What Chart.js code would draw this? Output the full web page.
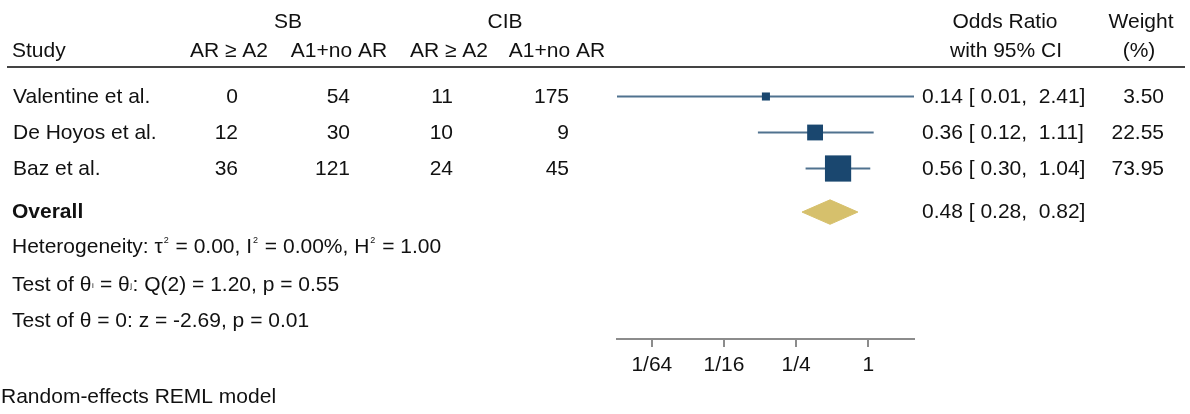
<!DOCTYPE html>
<html>
<head>
<meta charset="utf-8">
<title>Forest plot</title>
<script src="https://cdn.jsdelivr.net/npm/chart.js@4/dist/chart.umd.min.js"></script>
<style>
    html, body { margin: 0; padding: 0; background: #fff; }
    #wrap { width: 1190px; height: 414px; position: relative; }
</style>
</head>
<body>
<div id="wrap"><canvas id="forestChart"></canvas></div>
<script>
// Study table
const studies = ['Valentine et al.', 'De Hoyos et al.', 'Baz et al.'];
const sbEvents = [0, 12, 36];
const sbNonEvents = [54, 30, 121];
const cibEvents = [11, 10, 24];
const cibNonEvents = [175, 9, 45];

// Effect sizes (odds ratio, 95% CI) and weights
const oddsRatio = [0.14, 0.36, 0.56];
const ciLower = [0.008, 0.12, 0.30];
const ciUpper = [2.41, 1.11, 1.04];
const weights = [3.50, 22.55, 73.95];
const overallEstimate = [0.48, 0.28, 0.82]; // OR, lower, upper

// Axis ticks
const xTickValues = [1 / 64, 1 / 16, 1 / 4, 1];
const xTickLabels = ['1/64', '1/16', '1/4', '1'];

// Bottom statistics text (parts: [text, kind])
const statLines = [
    [['Heterogeneity: τ', 'n'], ['2', 'sup'], [' = 0.00, I', 'n'], ['2', 'sup'], [' = 0.00%, H', 'n'], ['2', 'sup'], [' = 1.00', 'n']],
    [['Test of θ', 'n'], ['i', 'sub'], [' = θ', 'n'], ['j', 'sub'], [': Q(2) = 1.20, p = 0.55', 'n']],
    [['Test of θ = 0: z = -2.69, p = 0.01', 'n']]
];
const footnote = 'Random-effects REML model';

// Layout / styles
const FONT = '"Liberation Sans", Arial, sans-serif';
const FS = 21;
const TEXT_COLOR = '#111';
const NAVY = '#1a476f';
const CI_COLOR = '#50728f';
const SAND = '#d6c06c';
const AXIS_COLOR = '#8c8c8c';
const ROW_PX = 36;          // spacing between study rows
const OVERALL_ROW = 3.21;   // overall row position (after a small gap)
const DIAMOND_HALF = 0.34;  // diamond half height in row units
const PLOT_TOP = 66;
const PLOT_BOTTOM = 339;
const FIRST_ROW_PX = 96.5;

const yMin = -(FIRST_ROW_PX - PLOT_TOP) / ROW_PX;
const yMax = yMin + (PLOT_BOTTOM - PLOT_TOP) / ROW_PX;

function fmt2(v) {
    return v.toFixed(2);
}
function ciText(or, lo, hi) {
    return fmt2(or) + ' [ ' + fmt2(lo) + ',  ' + fmt2(hi) + ']';
}

// square side grows with study weight
function squareRadius(w) {
    const side = 3 + 2.7 * Math.sqrt(w);
    return side / Math.SQRT2;
}

function drawRich(ctx, parts, x, y) {
    let cx = x;
    parts.forEach(([t, kind]) => {
        if (kind === 'sup') {
            ctx.font = '9px ' + FONT;
            ctx.fillText(t, cx + 1, y - 10);
            cx += ctx.measureText(t).width + 2;
        } else if (kind === 'sub') {
            ctx.font = '8px ' + FONT;
            ctx.fillText(t, cx + 0.5, y - 3);
            cx += ctx.measureText(t).width + 1;
        } else {
            ctx.font = FS + 'px ' + FONT;
            ctx.fillText(t, cx, y);
            cx += ctx.measureText(t).width;
        }
    });
}

const tablePlugin = {
    id: 'forestTable',
    afterDraw(chart) {
        const ctx = chart.ctx;
        const yScale = chart.scales.y;
        ctx.save();
        ctx.fillStyle = TEXT_COLOR;
        ctx.textBaseline = 'alphabetic';
        ctx.font = FS + 'px ' + FONT;

        // header
        ctx.textAlign = 'center';
        ctx.fillText('SB', 288, 28);
        ctx.fillText('CIB', 505, 28);
        ctx.fillText('Odds Ratio', 1005, 28);
        ctx.fillText('Weight', 1141, 28);
        ctx.fillText('AR ≥ A2', 229, 57);
        ctx.fillText('A1+no AR', 339, 57);
        ctx.fillText('AR ≥ A2', 449, 57);
        ctx.fillText('A1+no AR', 557, 57);
        ctx.fillText('with 95% CI', 1006, 57);
        ctx.fillText('(%)', 1139, 57);
        ctx.textAlign = 'left';
        ctx.fillText('Study', 12, 57);

        // rule under header
        ctx.strokeStyle = '#444';
        ctx.lineWidth = 2;
        ctx.beginPath();
        ctx.moveTo(7, 67);
        ctx.lineTo(1185, 67);
        ctx.stroke();

        // study rows
        const cols = [sbEvents, sbNonEvents, cibEvents, cibNonEvents];
        const colRight = [238, 350, 453, 569];
        studies.forEach((name, i) => {
            const by = yScale.getPixelForValue(i) + 6;
            ctx.textAlign = 'left';
            ctx.fillText(name, 13, by);
            ctx.textAlign = 'right';
            cols.forEach((col, c) => ctx.fillText(String(col[i]), colRight[c], by));
            ctx.textAlign = 'left';
            ctx.fillText(ciText(oddsRatio[i], ciLower[i], ciUpper[i]), 922, by);
            ctx.textAlign = 'right';
            ctx.fillText(fmt2(weights[i]), 1164, by);
        });

        // overall row
        const oy = yScale.getPixelForValue(OVERALL_ROW) + 6;
        ctx.textAlign = 'left';
        ctx.font = 'bold ' + FS + 'px ' + FONT;
        ctx.fillText('Overall', 12, oy);
        ctx.font = FS + 'px ' + FONT;
        ctx.fillText(ciText(overallEstimate[0], overallEstimate[1], overallEstimate[2]), 922, oy);

        // statistics
        const statBase = [253, 291, 327];
        statLines.forEach((parts, k) => drawRich(ctx, parts, 12, statBase[k]));

        ctx.font = FS + 'px ' + FONT;
        ctx.fillText(footnote, 1, 403);
        ctx.restore();
    }
};

function initForestChart() {
    const ctx = document.getElementById('forestChart');

    const ciDatasets = studies.map((s, i) => ({
        type: 'scatter',
        label: s + ' CI',
        data: [{ x: ciLower[i], y: i }, { x: ciUpper[i], y: i }],
        showLine: true,
        borderColor: CI_COLOR,
        borderWidth: 2,
        pointRadius: 0,
        order: 2
    }));

    const squares = {
        type: 'scatter',
        label: 'Odds ratio',
        data: oddsRatio.map((v, i) => ({ x: v, y: i })),
        pointStyle: 'rect',
        pointRadius: weights.map(squareRadius),
        backgroundColor: NAVY,
        borderColor: NAVY,
        borderWidth: 0,
        order: 1
    };

    const diamond = {
        type: 'scatter',
        label: 'Overall',
        data: [
            { x: overallEstimate[1], y: OVERALL_ROW },
            { x: overallEstimate[0], y: OVERALL_ROW - DIAMOND_HALF },
            { x: overallEstimate[2], y: OVERALL_ROW },
            { x: overallEstimate[0], y: OVERALL_ROW + DIAMOND_HALF },
            { x: overallEstimate[1], y: OVERALL_ROW }
        ],
        showLine: true,
        fill: 'shape',
        backgroundColor: SAND,
        borderColor: SAND,
        borderWidth: 1,
        pointRadius: 0,
        tension: 0,
        order: 1
    };

    new Chart(ctx, {
        type: 'scatter',
        data: { datasets: [...ciDatasets, squares, diamond] },
        options: {
            responsive: true,
            maintainAspectRatio: false,
            animation: false,
            layout: { padding: { left: 617, right: 276, top: PLOT_TOP, bottom: 0 } },
            scales: {
                x: {
                    type: 'logarithmic',
                    min: Math.min(...ciLower),
                    max: Math.max(...ciUpper),
                    afterBuildTicks: scale => {
                        scale.ticks = xTickValues.map(v => ({ value: v }));
                    },
                    afterFit: scale => {
                        scale.height = 414 - PLOT_BOTTOM;
                    },
                    ticks: {
                        autoSkip: false,
                        maxRotation: 0,
                        padding: 6,
                        color: TEXT_COLOR,
                        font: { family: FONT, size: FS },
                        callback: (value, index) => xTickLabels[index]
                    },
                    grid: {
                        drawOnChartArea: false,
                        drawTicks: true,
                        tickLength: 8,
                        color: AXIS_COLOR,
                        lineWidth: 2
                    },
                    border: { display: true, color: AXIS_COLOR, width: 2 }
                },
                y: {
                    type: 'linear',
                    reverse: true,
                    min: yMin,
                    max: yMax,
                    display: false
                }
            },
            plugins: {
                legend: { display: false },
                tooltip: { enabled: false }
            }
        },
        plugins: [tablePlugin]
    });
}

document.addEventListener('DOMContentLoaded', initForestChart);
</script>
</body>
</html>
